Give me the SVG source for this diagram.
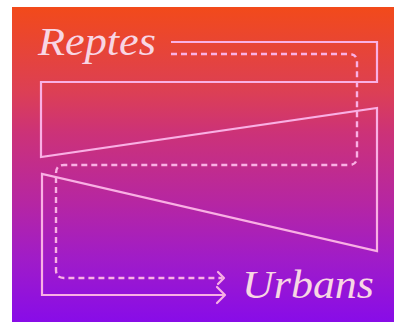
<svg xmlns="http://www.w3.org/2000/svg" width="395" height="322" viewBox="0 0 395 322">
<style>
.line{fill:none;stroke:#f9b0e4;stroke-width:2.2;stroke-linejoin:miter;stroke-linecap:butt}
.dash{fill:none;stroke:#f9b0e4;stroke-width:2.4;stroke-dasharray:6 4;stroke-linejoin:round}
.head{fill:none;stroke:#f9b0e4;stroke-width:2.2;stroke-linecap:round;stroke-linejoin:round}
.label{font-family:"Liberation Serif","DejaVu Serif",serif;font-style:italic;font-size:40px;fill:#f8d6e4}
</style>
<defs>
<linearGradient id="bg" x1="0" y1="7" x2="0" y2="322" gradientUnits="userSpaceOnUse">
<stop offset="0" stop-color="#f24a1a"/>
<stop offset="0.27" stop-color="#dc3f55"/>
<stop offset="0.4" stop-color="#cc3278"/>
<stop offset="0.62" stop-color="#b626a2"/>
<stop offset="0.8" stop-color="#a01cc8"/>
<stop offset="1" stop-color="#880ce8"/>
</linearGradient>
</defs>
<rect x="0" y="0" width="395" height="322" fill="#ffffff"/>
<rect id="background" x="12" y="7" width="382" height="315" fill="url(#bg)"/>
<g id="connectors">
<path class="line" d="M171,42 H377 V82 H41 V157 L377,108 V251 L42,174 V295 H224"/>
<path class="head" d="M217,287 L225,295 L217,303"/>
<path class="dash" d="M171,54 H349 Q357,54 357,62 V157 Q357,165 349,165 H64 Q56,165 56,173 V270 Q56,278 64,278 H222"/>
<path class="head" d="M218,272 L224,278 L218,284"/>
</g>
<g id="reptes">
<text class="label" x="38" y="55" textLength="118" lengthAdjust="spacingAndGlyphs">Reptes</text>
</g>
<g id="urbans">
<text class="label" x="242" y="298" textLength="132" lengthAdjust="spacingAndGlyphs">Urbans</text>
</g>
</svg>
